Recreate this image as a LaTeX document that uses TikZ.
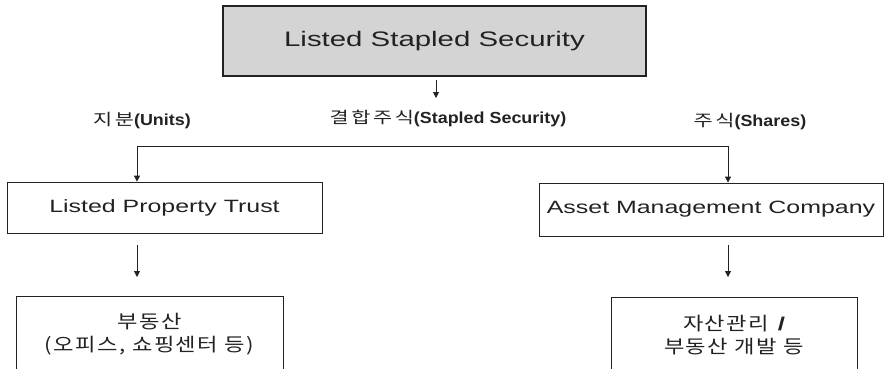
\documentclass[tikz,border=0pt]{standalone}
\usepackage{fontspec}
\setmainfont{Liberation Sans}[FakeStretch=1.4]
\newfontfamily\labfont{Liberation Sans}[FakeStretch=1.12]
\newfontfamily\kr{Noto Sans CJK KR}[FakeStretch=1.2,LetterSpace=8]
\newfontfamily\krl{Noto Sans CJK KR}[FakeStretch=1.3,LetterSpace=16]
\usetikzlibrary{arrows.meta}
\definecolor{topfill}{HTML}{D4D4D4}
\definecolor{ink}{HTML}{222222}
\begin{document}
\begin{tikzpicture}[x=1pt,y=-1pt,
  box/.style={draw=ink,line width=0.8pt,fill=white,inner sep=0pt,align=center,text=ink},
  topbox/.style={draw=ink,line width=2.2pt,fill=topfill,inner sep=0pt,align=center,text=ink},
  arr/.style={draw=ink,line width=0.8pt,-{Triangle[length=6pt,width=6pt]}},
  conn/.style={draw=ink,line width=0.8pt},
  lbl/.style={inner sep=0pt,text=ink,font=\fontsize{16}{18}\selectfont}]
\useasboundingbox (0,0) rectangle (884,368);
\fill[white] (0,0) rectangle (884,368);
% boxes
\node[topbox,minimum width=423pt,minimum height=70pt,font=\fontsize{21}{24}\selectfont] (top) at (434.5,41) {Listed Stapled Security};
\node[box,minimum width=315pt,minimum height=51pt,font=\fontsize{17.8}{20}\selectfont] (lpt) at (164.5,207.5) {Listed Property Trust};
\node[box,minimum width=344pt,minimum height=53pt,font=\fontsize{17.8}{20}\selectfont] (amc) at (711,209.5) {Asset Management Company};
\node[box,minimum width=267pt,minimum height=76pt,font=\fontsize{18.5}{23}\selectfont] (re) at (149.5,334) {{\kr 부동산}\\{\kr (오피스, 쇼핑센터 등)}};
\node[box,minimum width=246pt,minimum height=76pt,font=\fontsize{18.5}{23}\selectfont] (am) at (734,335) {{\kr 자산관리} \textbf{/}\\{\kr 부동산 개발 등}};
% labels
\node[lbl] (lss) at (448,118) {{\krl 결합주식}{\labfont\bfseries (Stapled Security)}};
\node[lbl] (lu) at (142,121) {{\krl 지분}{\labfont\bfseries (Units)}};
\node[lbl] (ls) at (750,122) {{\krl 주식}{\labfont\bfseries (Shares)}};
% connectors
\coordinate (t1) at (436,80);
\coordinate (t2) at (436,98);
\draw[arr] (t1) -- (t2);
\coordinate (bl) at (137,146);
\coordinate (br) at (728,146);
\draw[conn] (bl) -- (br);
\draw[arr] (bl) -- (lpt.north -| bl);
\draw[arr] (br) -- (amc.north -| br);
\coordinate (l1) at (137,245);
\coordinate (l2) at (137,277);
\coordinate (r1) at (728,245);
\coordinate (r2) at (728,277);
\draw[arr] (l1) -- (l2);
\draw[arr] (r1) -- (r2);
\end{tikzpicture}
\end{document}
